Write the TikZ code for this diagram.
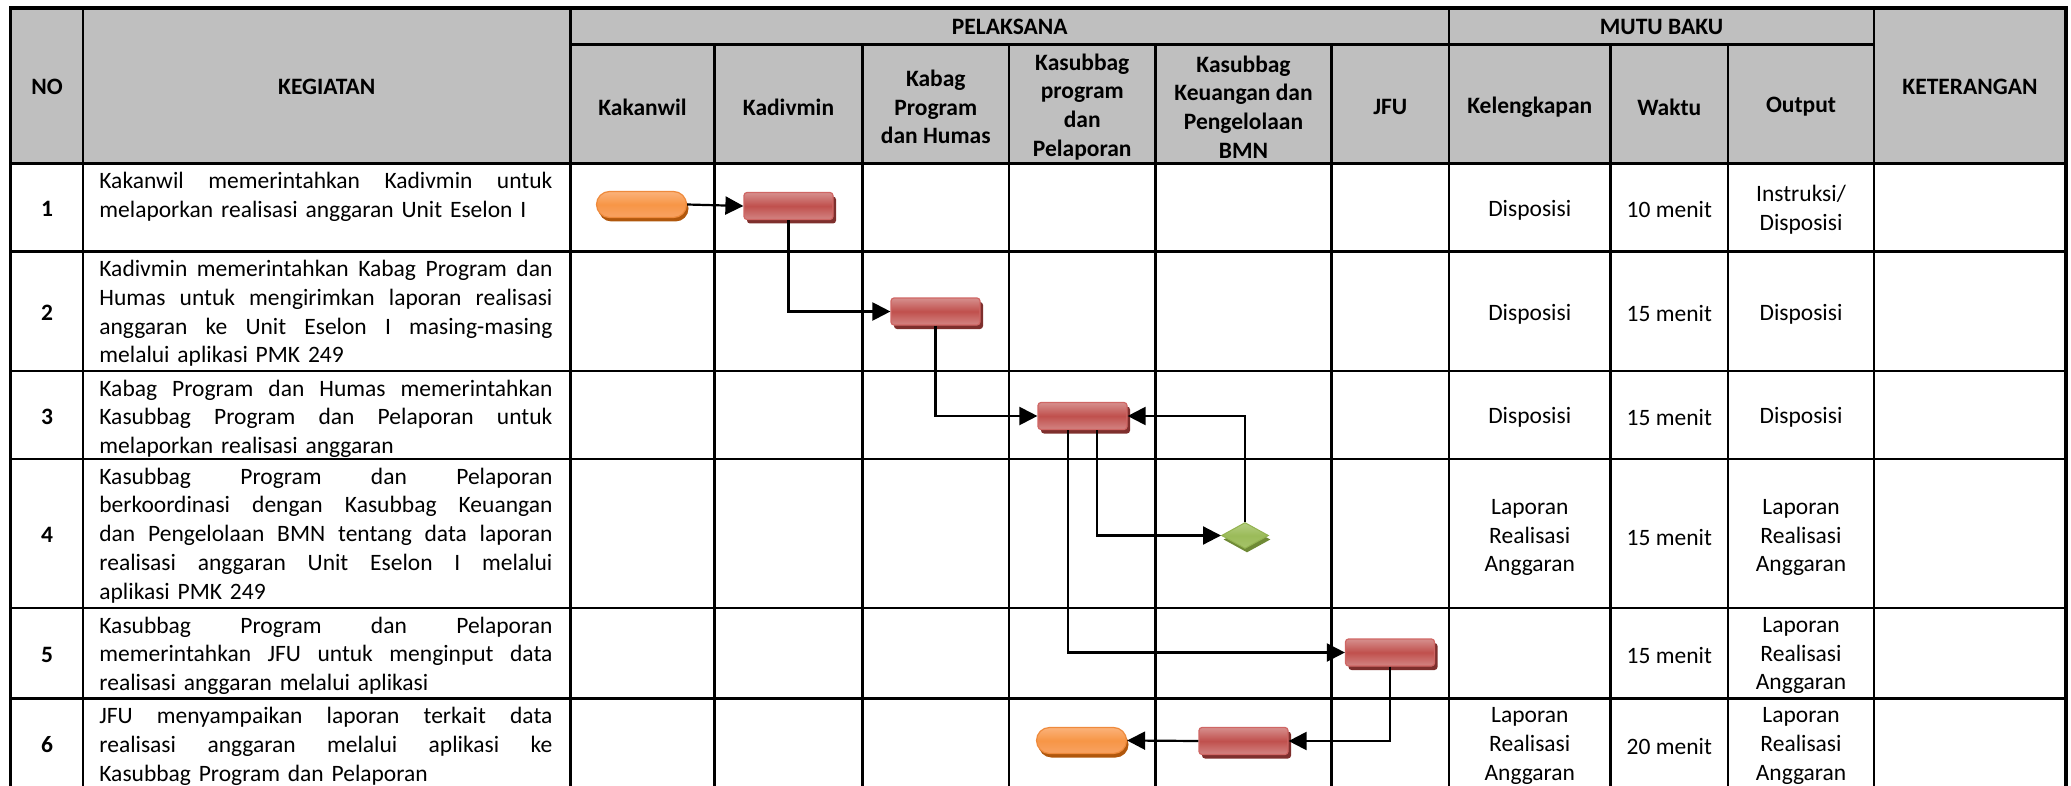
\documentclass[tikz,border=0pt]{standalone}
\usepackage{fontspec}
\setmainfont{Carlito}
\usetikzlibrary{arrows.meta,shapes.geometric,shadows}
\definecolor{hdr}{RGB}{191,191,191}
\definecolor{procM}{HTML}{C0504D}
\definecolor{procT}{HTML}{D68F8D}
\definecolor{procBt}{HTML}{D38583}
\definecolor{procB}{HTML}{CF6664}
\definecolor{procS}{HTML}{7E2F2D}
\definecolor{termM}{HTML}{F79646}
\definecolor{termT}{HTML}{FBB27A}
\definecolor{termBt}{HTML}{F8A363}
\definecolor{termB}{HTML}{EE8A3C}
\definecolor{termS}{HTML}{B0570C}
\definecolor{decM}{HTML}{9BBB59}
\definecolor{decT}{HTML}{B4CE83}
\definecolor{decBt}{HTML}{A6C36A}
\definecolor{decB}{HTML}{93B350}
\definecolor{decS}{HTML}{6F8A36}
\newcommand\justline[1]{{\spaceskip=0.226em plus 20em\xspaceskip=0pt\makebox[226.5pt][s]{#1}}}
\begin{document}
\begin{tikzpicture}[x=0.5pt,y=-0.5pt,
  every node/.style={font=\fontsize{11.75}{14.4}\selectfont, inner sep=0pt},
  hd/.style={font=\fontsize{11.75}{14.4}\selectfont\bfseries, align=center},
  num/.style={font=\fontsize{11.75}{14.4}\selectfont\bfseries},
  cell/.style={align=center},
  desc/.style={anchor=base west, text width=226.5pt, align=left},
  gridline/.style={line width=1.1pt},
  outerline/.style={line width=1.6pt},
  proc/.style={rectangle, rounded corners=1.5pt, minimum width=44.5pt, minimum height=13.5pt,
    draw=procB, line width=0.6pt, top color=procT, bottom color=procBt, middle color=procM,
    drop shadow={shadow xshift=1.5pt, shadow yshift=-2pt, fill=procS, opacity=1}},
  term/.style={rectangle, rounded corners=6.5pt, minimum width=45pt, minimum height=13pt,
    draw=termB, line width=0.6pt, top color=termT, bottom color=termBt, middle color=termM,
    drop shadow={shadow xshift=1pt, shadow yshift=-2pt, fill=termS, opacity=1}},
  dec/.style={diamond, minimum width=23.5pt, minimum height=13pt,
    draw=decB, line width=0.5pt, top color=decT, bottom color=decBt, middle color=decM,
    drop shadow={shadow xshift=1pt, shadow yshift=-2pt, fill=decS, opacity=1}},
  conn/.style={line width=1.1pt, -{Triangle[length=9pt,width=9pt]}}
]
\useasboundingbox (0,0) rectangle (2071,786);
% header background
\fill[hdr] (10.5,8) rectangle (2066,163.5);
% grid
\foreach \y in {163.5,251.5,371,459,608,698.5} \draw[gridline] (10.5,\y) -- (2066,\y);
\draw[gridline] (570.5,44.5) -- (1874,44.5);
\foreach \x in {83,570.5,1449,1874} \draw[gridline] (\x,8) -- (\x,786);
\foreach \x in {714.5,862.5,1009,1155.5,1331.5,1610.5,1728} \draw[gridline] (\x,44.5) -- (\x,786);
\draw[outerline] (10.5,786) -- (10.5,8) -- (2066,8) -- (2066,786);

% header texts
\node[hd] (hNo) at (47,87) {NO};
\node[hd] (hKeg) at (326.75,87) {KEGIATAN};
\node[hd] (hPel) at (1009.75,27) {PELAKSANA};
\node[hd] (hMutu) at (1661.5,27) {MUTU BAKU};
\node[hd] (hKet) at (1970,87) {KETERANGAN};
\node[hd] (hKak) at (642.5,107) {Kakanwil};
\node[hd] (hKad) at (788.5,107) {Kadivmin};
\node[hd] (hKab) at (935.75,107) {Kabag\\Program\\dan Humas};
\node[hd] (hKsp) at (1082.25,107) {Kasubbag\\program\\dan\\Pelaporan};
\node[hd] (hKsk) at (1243.5,107) {Kasubbag\\Keuangan dan\\Pengelolaan\\BMN};
\node[hd] (hJfu) at (1390.25,107) {JFU};
\node[hd] (hKel) at (1529.75,107) {Kelengkapan};
\node[hd] (hWak) at (1669.25,107) {Waktu};
\node[hd] (hOut) at (1801,107) {Output};

% numbers
\node[num] (n1) at (47,209) {1};
\node[num] (n2) at (47,313) {2};
\node[num] (n3) at (47,416.5) {3};
\node[num] (n4) at (47,535) {4};
\node[num] (n5) at (47,655) {5};
\node[num] (n6) at (47,745) {6};

% descriptions
\node[desc] (k1) at (99,188.5) {\justline{Kakanwil memerintahkan Kadivmin untuk}\\melaporkan realisasi anggaran Unit Eselon I};
\node[desc] (k2) at (99,276.5) {\justline{Kadivmin memerintahkan Kabag Program dan}\\\justline{Humas untuk mengirimkan laporan realisasi}\\\justline{anggaran ke Unit Eselon I masing-masing}\\melalui aplikasi PMK 249};
\node[desc] (k3) at (99,396) {\justline{Kabag Program dan Humas memerintahkan}\\\justline{Kasubbag Program dan Pelaporan untuk}\\melaporkan realisasi anggaran};
\node[desc] (k4) at (99,484) {\justline{Kasubbag Program dan Pelaporan}\\\justline{berkoordinasi dengan Kasubbag Keuangan}\\\justline{dan Pengelolaan BMN tentang data laporan}\\\justline{realisasi anggaran Unit Eselon I melalui}\\aplikasi PMK 249};
\node[desc] (k5) at (99,633) {\justline{Kasubbag Program dan Pelaporan}\\\justline{memerintahkan JFU untuk menginput data}\\realisasi anggaran melalui aplikasi};
\node[desc] (k6) at (99,723.5) {\justline{JFU menyampaikan laporan terkait data}\\\justline{realisasi anggaran melalui aplikasi ke}\\Kasubbag Program dan Pelaporan};

% mutu baku
\node[cell] (kel1) at (1529.75,210) {Disposisi};
\node[cell] (wak1) at (1669.25,210) {10 menit};
\node[cell] (out1) at (1801,210) {Instruksi/\\Disposisi};
\node[cell] (kel2) at (1529.75,314) {Disposisi};
\node[cell] (wak2) at (1669.25,314) {15 menit};
\node[cell] (out2) at (1801,314) {Disposisi};
\node[cell] (kel3) at (1529.75,417.5) {Disposisi};
\node[cell] (wak3) at (1669.25,417.5) {15 menit};
\node[cell] (out3) at (1801,417.5) {Disposisi};
\node[cell] (kel4) at (1529.75,537.5) {Laporan\\Realisasi\\Anggaran};
\node[cell] (wak4) at (1669.25,537.5) {15 menit};
\node[cell] (out4) at (1801,537.5) {Laporan\\Realisasi\\Anggaran};
\node[cell] (wak5) at (1669.25,655.5) {15 menit};
\node[cell] (out5) at (1801,655.5) {Laporan\\Realisasi\\Anggaran};
\node[cell] (kel6) at (1529.75,746) {Laporan\\Realisasi\\Anggaran};
\node[cell] (wak6) at (1669.25,746) {20 menit};
\node[cell] (out6) at (1801,746) {Laporan\\Realisasi\\Anggaran};

% flow shapes
\node[term] (t1) at (641.5,204.5) {};
\node[proc] (p1) at (788.5,206) {};
\node[proc] (p2) at (935.5,311.5) {};
\node[proc] (p3) at (1082.5,416) {};
\node[dec] (d4) at (1245,535.5) {};
\node[proc] (p5) at (1390,652.5) {};
\node[proc] (p6) at (1243.5,741) {};
\node[term] (t2) at (1081.5,740.5) {};

% connectors
\draw[conn] (t1.east) -- (p1.west);
\draw[conn] (p1.south) |- (p2.west);
\draw[conn] (p2.south) |- (p3.west);
\draw[conn] (d4.north) |- (p3.east);
\draw[conn] ([xshift=7.25pt]p3.south) |- (d4.west);
\draw[conn] ([xshift=-7.25pt]p3.south) |- (p5.west);
\draw[conn] (p5.south) |- (p6.east);
\draw[conn] (p6.west) -- (t2.east);
\end{tikzpicture}
\end{document}
